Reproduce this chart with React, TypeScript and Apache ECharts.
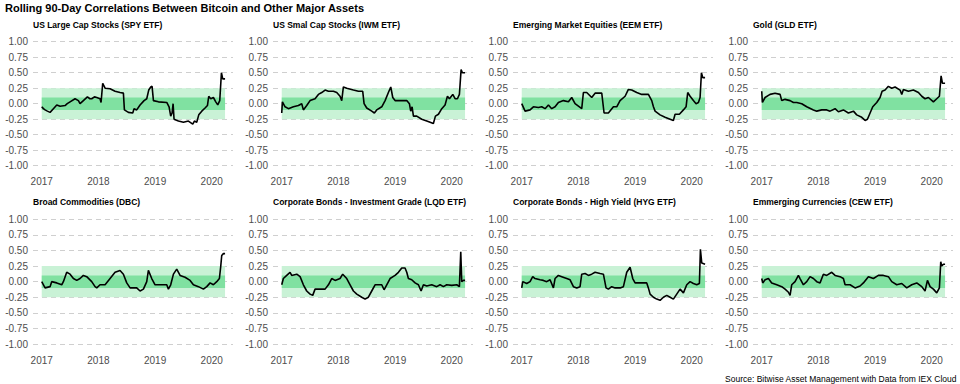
import React, { useEffect, useRef } from "react";
import * as echarts from "echarts";

const MAIN_TITLE = "Rolling 90-Day Correlations Between Bitcoin and Other Major Assets";
const SOURCE_TEXT = "Source: Bitwise Asset Management with Data from IEX Cloud";
const PANEL_TITLES = [
  "US Large Cap Stocks (SPY ETF)",
  "US Smal Cap Stocks (IWM ETF)",
  "Emerging Market Equities (EEM ETF)",
  "Gold (GLD ETF)",
  "Broad Commodities (DBC)",
  "Corporate Bonds - Investment Grade (LQD ETF)",
  "Corporate Bonds - High Yield (HYG ETF)",
  "Emmerging Currencies (CEW ETF)",
];
const YEAR_TICKS = [2017, 2018, 2019, 2020];
const OUTER_BAND = [-0.25, 0.25];
const INNER_BAND = [-0.1, 0.1];
const BAND_START = 2017.0;
const BAND_END = 2020.235;

// [decimal year, rolling correlation]
const spy: [number, number][] = [
  [2017.0, -0.05], [2017.03, -0.08], [2017.059, -0.1], [2017.1, -0.12], [2017.147, -0.14], [2017.206, -0.08], [2017.265, -0.02],
  [2017.324, -0.04], [2017.412, -0.03], [2017.45, 0.0], [2017.5, 0.03], [2017.588, 0.08], [2017.647, 0.05],
  [2017.676, 0.0], [2017.735, 0.05], [2017.806, 0.11], [2017.85, 0.08], [2017.882, 0.08], [2017.93, 0.11], [2017.971, 0.1],
  [2018.029, 0.08], [2018.047, 0.02], [2018.076, 0.33], [2018.118, 0.25], [2018.206, 0.24],
  [2018.294, 0.2], [2018.382, 0.18], [2018.441, 0.17], [2018.459, -0.1], [2018.529, -0.14],
  [2018.606, -0.15], [2018.629, -0.08], [2018.676, -0.1], [2018.735, -0.02], [2018.806, 0.05],
  [2018.853, 0.08], [2018.888, 0.22], [2018.924, 0.27], [2018.947, 0.28], [2018.971, 0.05],
  [2019.059, 0.03], [2019.206, 0.02], [2019.247, -0.05], [2019.276, -0.2], [2019.3, -0.15],
  [2019.318, 0.0], [2019.335, -0.25], [2019.412, -0.28], [2019.5, -0.3], [2019.588, -0.28],
  [2019.665, -0.33], [2019.694, -0.28], [2019.735, -0.3], [2019.771, -0.18], [2019.824, -0.12],
  [2019.882, -0.07], [2019.924, -0.03], [2019.947, 0.12], [2019.982, 0.08], [2020.029, 0.1],
  [2020.071, 0.03], [2020.106, -0.02], [2020.141, 0.05], [2020.171, 0.5], [2020.194, 0.4],
  [2020.235, 0.4],
];
const iwm: [number, number][] = [
  [2017.0, -0.15], [2017.012, 0.03], [2017.059, -0.05], [2017.118, -0.08], [2017.206, -0.05],
  [2017.294, -0.03], [2017.353, 0.0], [2017.382, -0.1], [2017.441, -0.03], [2017.5, 0.05],
  [2017.588, 0.08], [2017.647, 0.15], [2017.706, 0.18], [2017.765, 0.22], [2017.824, 0.2],
  [2017.912, 0.2], [2017.971, 0.18], [2018.029, 0.12], [2018.059, 0.05], [2018.088, 0.27],
  [2018.147, 0.25], [2018.265, 0.22], [2018.353, 0.2], [2018.429, 0.2], [2018.453, 0.0],
  [2018.5, -0.07], [2018.588, -0.12], [2018.635, -0.15], [2018.676, -0.1], [2018.765, -0.05],
  [2018.824, 0.05], [2018.882, 0.18], [2018.924, 0.27], [2018.959, 0.1], [2019.0, 0.05],
  [2019.088, 0.05], [2019.206, 0.05], [2019.253, 0.0], [2019.276, -0.12], [2019.3, -0.05],
  [2019.324, -0.2], [2019.382, -0.2], [2019.471, -0.25], [2019.559, -0.28], [2019.618, -0.3],
  [2019.676, -0.32], [2019.712, -0.2], [2019.765, -0.17], [2019.824, -0.08], [2019.882, -0.02],
  [2019.924, 0.12], [2019.959, 0.08], [2020.018, 0.15], [2020.059, 0.08], [2020.1, 0.08],
  [2020.135, 0.15], [2020.165, 0.55], [2020.188, 0.5], [2020.235, 0.5],
];
const eem: [number, number][] = [
  [2017.0, 0.0], [2017.059, -0.12], [2017.147, -0.1], [2017.206, -0.05], [2017.294, -0.06],
  [2017.353, -0.05], [2017.412, -0.08], [2017.471, -0.02], [2017.529, -0.08], [2017.588, -0.05],
  [2017.647, 0.02], [2017.735, 0.05], [2017.824, 0.03], [2017.882, 0.1], [2017.941, 0.0],
  [2018.0, -0.04], [2018.059, -0.08], [2018.088, 0.18], [2018.147, 0.18], [2018.235, 0.1],
  [2018.294, 0.17], [2018.412, 0.17], [2018.453, -0.15], [2018.529, -0.15], [2018.618, -0.05],
  [2018.676, -0.05], [2018.735, 0.05], [2018.824, 0.12], [2018.882, 0.23], [2018.941, 0.22],
  [2019.029, 0.18], [2019.118, 0.15], [2019.235, 0.15], [2019.294, 0.05], [2019.324, -0.05],
  [2019.353, -0.12], [2019.441, -0.18], [2019.529, -0.22], [2019.618, -0.25], [2019.676, -0.27],
  [2019.706, -0.17], [2019.782, -0.17], [2019.853, -0.1], [2019.9, -0.05], [2019.929, 0.18],
  [2019.971, 0.12], [2020.029, 0.05], [2020.076, 0.0], [2020.118, 0.02], [2020.147, 0.1],
  [2020.171, 0.5], [2020.194, 0.42], [2020.235, 0.42],
];
const gld: [number, number][] = [
  [2017.0, 0.2], [2017.012, 0.02], [2017.059, 0.1], [2017.147, 0.15], [2017.235, 0.17],
  [2017.324, 0.15], [2017.353, 0.05], [2017.412, 0.07], [2017.5, 0.05], [2017.559, 0.02],
  [2017.618, 0.02], [2017.706, 0.0], [2017.794, -0.05], [2017.912, -0.1], [2017.971, -0.12],
  [2018.059, -0.1], [2018.147, -0.1], [2018.206, -0.12], [2018.294, -0.08], [2018.353, -0.13],
  [2018.441, -0.1], [2018.529, -0.15], [2018.618, -0.12], [2018.676, -0.18], [2018.765, -0.22],
  [2018.824, -0.27], [2018.865, -0.25], [2018.912, -0.15], [2018.959, -0.05], [2019.029, 0.02],
  [2019.088, 0.1], [2019.124, 0.2], [2019.176, 0.22], [2019.235, 0.28], [2019.294, 0.25],
  [2019.353, 0.27], [2019.441, 0.22], [2019.471, 0.15], [2019.5, 0.23], [2019.588, 0.2],
  [2019.676, 0.22], [2019.765, 0.18], [2019.824, 0.12], [2019.882, 0.08], [2019.941, 0.1],
  [2020.029, 0.03], [2020.088, 0.08], [2020.135, 0.12], [2020.165, 0.45], [2020.188, 0.33],
  [2020.235, 0.33],
];
const dbc: [number, number][] = [
  [2017.0, 0.0], [2017.059, -0.1], [2017.147, -0.08], [2017.176, 0.0], [2017.265, -0.02],
  [2017.353, -0.05], [2017.382, 0.0], [2017.441, 0.15], [2017.5, 0.12], [2017.559, 0.05],
  [2017.618, 0.02], [2017.676, 0.05], [2017.735, 0.1], [2017.794, 0.08], [2017.882, 0.0],
  [2017.941, -0.08], [2017.971, -0.1], [2018.029, -0.05], [2018.118, -0.05], [2018.206, 0.05],
  [2018.294, 0.15], [2018.382, 0.18], [2018.441, 0.12], [2018.5, -0.02], [2018.559, -0.1],
  [2018.676, -0.1], [2018.735, -0.15], [2018.794, -0.12], [2018.853, 0.0], [2018.882, 0.18],
  [2018.941, 0.05], [2019.0, -0.05], [2019.147, -0.05], [2019.206, -0.05], [2019.235, -0.12],
  [2019.276, -0.05], [2019.324, 0.12], [2019.382, 0.2], [2019.441, 0.1], [2019.529, 0.07],
  [2019.618, 0.02], [2019.676, -0.05], [2019.765, -0.08], [2019.853, -0.12], [2019.912, -0.08],
  [2019.971, -0.02], [2020.029, -0.05], [2020.088, 0.0], [2020.135, 0.05], [2020.159, 0.25],
  [2020.176, 0.42], [2020.206, 0.45], [2020.235, 0.45],
];
const lqd: [number, number][] = [
  [2017.0, -0.05], [2017.029, 0.05], [2017.088, 0.1], [2017.147, 0.15], [2017.176, 0.1],
  [2017.265, 0.12], [2017.324, 0.08], [2017.382, -0.05], [2017.441, -0.15], [2017.5, -0.2],
  [2017.547, -0.22], [2017.588, -0.12], [2017.676, -0.12], [2017.765, -0.12], [2017.824, -0.05],
  [2017.882, 0.05], [2017.941, 0.02], [2018.029, 0.05], [2018.076, 0.12], [2018.147, 0.05],
  [2018.206, -0.05], [2018.265, -0.15], [2018.324, -0.2], [2018.412, -0.25], [2018.471, -0.28],
  [2018.529, -0.25], [2018.588, -0.15], [2018.647, -0.05], [2018.706, -0.05], [2018.765, -0.05],
  [2018.806, -0.13], [2018.853, -0.05], [2018.912, 0.05], [2019.0, 0.1], [2019.059, 0.15],
  [2019.118, 0.22], [2019.176, 0.22], [2019.206, 0.15], [2019.235, 0.05], [2019.294, 0.03],
  [2019.353, -0.02], [2019.412, -0.05], [2019.459, -0.15], [2019.5, -0.05], [2019.559, -0.07],
  [2019.647, -0.05], [2019.735, -0.08], [2019.794, -0.05], [2019.853, -0.08], [2019.912, -0.05],
  [2020.0, -0.06], [2020.088, -0.05], [2020.135, -0.08], [2020.159, 0.48], [2020.176, 0.0],
  [2020.206, 0.02], [2020.235, 0.02],
];
const hyg: [number, number][] = [
  [2017.0, -0.1], [2017.018, 0.0], [2017.088, -0.03], [2017.147, 0.0], [2017.194, 0.08],
  [2017.235, 0.05], [2017.324, 0.03], [2017.382, 0.02], [2017.441, 0.0], [2017.5, 0.03],
  [2017.559, -0.1], [2017.588, 0.05], [2017.647, 0.1], [2017.706, 0.08], [2017.794, 0.05],
  [2017.853, 0.03], [2017.912, -0.08], [2017.971, -0.1], [2018.029, -0.08], [2018.059, 0.12],
  [2018.118, 0.13], [2018.176, 0.1], [2018.235, 0.12], [2018.294, 0.15], [2018.382, 0.13],
  [2018.441, 0.12], [2018.488, -0.1], [2018.529, -0.12], [2018.588, -0.08], [2018.647, -0.1],
  [2018.735, -0.1], [2018.794, -0.08], [2018.853, 0.15], [2018.912, 0.23], [2018.959, 0.05],
  [2019.0, -0.02], [2019.088, -0.02], [2019.206, -0.02], [2019.235, -0.1], [2019.265, -0.2],
  [2019.324, -0.25], [2019.382, -0.28], [2019.441, -0.3], [2019.5, -0.25], [2019.559, -0.22],
  [2019.618, -0.25], [2019.676, -0.28], [2019.735, -0.2], [2019.794, -0.12], [2019.853, -0.18],
  [2019.912, -0.05], [2019.971, 0.0], [2020.029, -0.03], [2020.088, -0.05], [2020.135, -0.03],
  [2020.153, 0.52], [2020.176, 0.3], [2020.235, 0.28],
];
const cew: [number, number][] = [
  [2017.0, 0.05], [2017.018, -0.02], [2017.059, 0.03], [2017.118, 0.05], [2017.176, -0.02],
  [2017.265, -0.05], [2017.353, -0.08], [2017.412, -0.12], [2017.471, -0.17], [2017.5, -0.22],
  [2017.529, -0.05], [2017.588, 0.0], [2017.647, 0.1], [2017.676, 0.05], [2017.735, -0.05],
  [2017.794, 0.0], [2017.853, 0.08], [2017.912, 0.05], [2017.971, 0.0], [2018.029, -0.02],
  [2018.088, 0.12], [2018.147, 0.1], [2018.235, 0.15], [2018.294, 0.1], [2018.382, 0.08],
  [2018.441, 0.05], [2018.471, -0.05], [2018.559, -0.05], [2018.647, -0.1], [2018.735, -0.07],
  [2018.794, -0.02], [2018.882, 0.08], [2018.971, 0.05], [2019.059, 0.1], [2019.147, 0.1],
  [2019.235, 0.08], [2019.294, 0.0], [2019.382, -0.05], [2019.471, -0.03], [2019.559, -0.1],
  [2019.647, -0.05], [2019.735, -0.02], [2019.824, -0.08], [2019.882, -0.15], [2019.924, 0.02],
  [2019.971, -0.08], [2020.029, -0.12], [2020.088, -0.18], [2020.135, -0.1], [2020.159, 0.32],
  [2020.176, 0.25], [2020.206, 0.28], [2020.235, 0.28],
];
const SERIES_DATA = [spy, iwm, eem, gld, dbc, lqd, hyg, cew];

export default function App() {
  const ref = useRef<HTMLDivElement>(null);
  useEffect(() => {
    if (!ref.current) return;
    const chart = echarts.init(ref.current, null, { renderer: "svg" });
    const font = "Liberation Sans, Arial, Helvetica, sans-serif";
    const grids: any[] = [];
    const xAxes: any[] = [];
    const yAxes: any[] = [];
    const series: any[] = [];
    const titles: any[] = [
      {
        text: MAIN_TITLE,
        left: 5,
        top: 2,
        padding: 0,
        textStyle: { fontFamily: font, fontSize: 11, fontWeight: "bold", color: "#000" },
      },
      {
        text: SOURCE_TEXT,
        right: 3,
        top: 374,
        padding: 0,
        textStyle: { fontFamily: font, fontSize: 8.5, fontWeight: "normal", color: "#000" },
      },
    ];
    SERIES_DATA.forEach((data, i) => {
      const col = i % 4;
      const row = Math.floor(i / 4);
      const left = col * 240 + 33;
      const top = row === 0 ? 41.7 : 219.3;
      const height = row === 0 ? 124 : 124.7;
      grids.push({ left, top, width: 200, height, containLabel: false });
      titles.push({
        text: PANEL_TITLES[i],
        left,
        top: row === 0 ? 20 : 197,
        padding: 0,
        textStyle: { fontFamily: font, fontSize: 8.5, fontWeight: "bold", color: "#000" },
      });
      xAxes.push({
        type: "value",
        gridIndex: i,
        min: 2016.846,
        max: 2020.375,
        axisLine: { show: false },
        axisTick: { show: false },
        splitLine: { show: false },
        axisLabel: {
          customValues: YEAR_TICKS,
          formatter: (v: number) => String(Math.round(v)),
          color: "#4d4d4d",
          fontSize: 10,
          fontFamily: font,
          margin: 11,
        },
      });
      yAxes.push({
        type: "value",
        gridIndex: i,
        min: -1,
        max: 1,
        interval: 0.25,
        axisLine: { show: false },
        axisTick: { show: false },
        splitLine: { show: true, lineStyle: { color: "#cfcfcf", type: [5, 4], width: 1 } },
        axisLabel: {
          formatter: (v: number) => v.toFixed(2),
          color: "#4d4d4d",
          fontSize: 10,
          fontFamily: font,
          margin: 5,
        },
      });
      series.push({
        type: "line",
        xAxisIndex: i,
        yAxisIndex: i,
        data: [],
        silent: true,
        z: 1,
        markArea: {
          silent: true,
          data: [
            [
              { xAxis: BAND_START, yAxis: OUTER_BAND[0], itemStyle: { color: "#c9f2d6" } },
              { xAxis: BAND_END, yAxis: OUTER_BAND[1] },
            ],
            [
              { xAxis: BAND_START, yAxis: INNER_BAND[0], itemStyle: { color: "#80e1a1" } },
              { xAxis: BAND_END, yAxis: INNER_BAND[1] },
            ],
          ],
        },
      });
      series.push({
        type: "line",
        xAxisIndex: i,
        yAxisIndex: i,
        data,
        showSymbol: false,
        symbol: "none",
        z: 5,
        lineStyle: { color: "#000", width: 1.6 },
      });
    });
    chart.setOption({
      animation: false,
      backgroundColor: "#fff",
      title: titles,
      grid: grids,
      xAxis: xAxes,
      yAxis: yAxes,
      series,
    });
    return () => chart.dispose();
  }, []);
  return <div ref={ref} style={{ width: 960, height: 384, position: "absolute", left: 0, top: 0 }} />;
}
